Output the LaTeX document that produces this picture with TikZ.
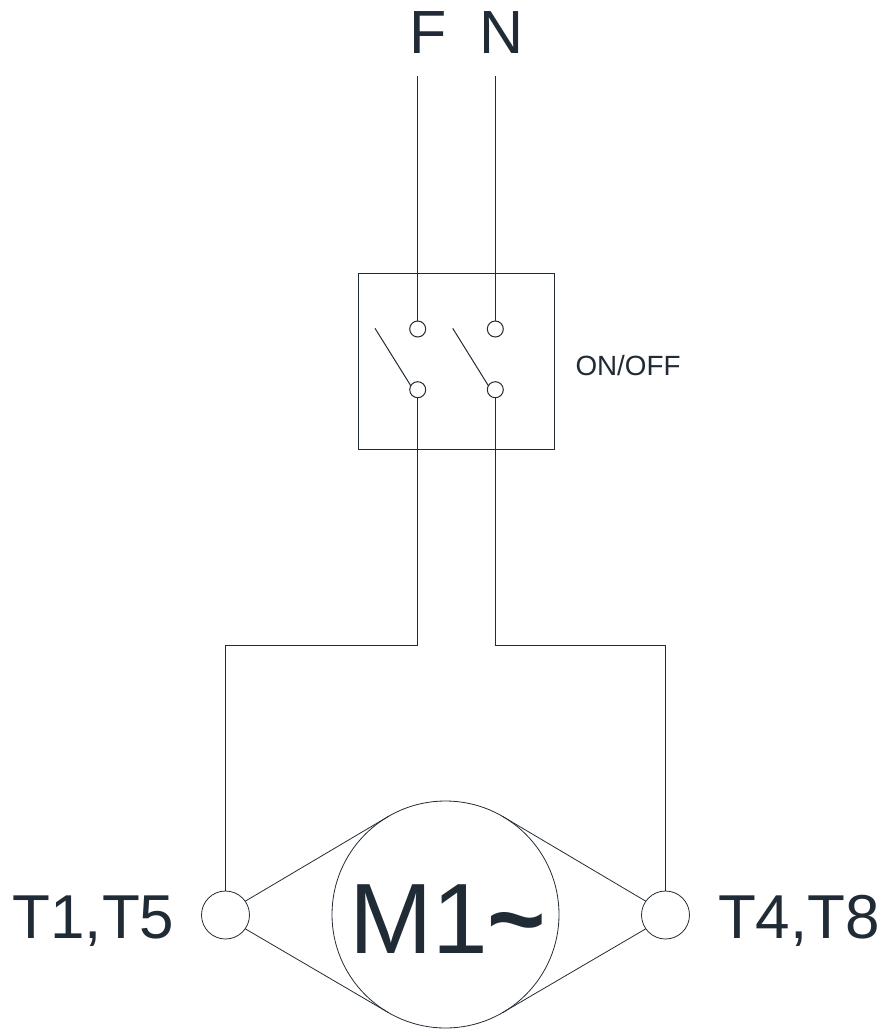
\documentclass[tikz,border=0pt]{standalone}
\usepackage{fontspec}
\setmainfont{Liberation Sans}
\definecolor{ink}{HTML}{212B35}
\tikzset{
  wire/.style={draw=ink,line width=1pt},
  thinwire/.style={draw=ink,line width=0.8pt},
  contact/.style={circle,draw=ink,line width=1pt,fill=white,minimum size=16pt,inner sep=0pt,outer sep=0pt},
  terminal/.style={circle,draw=ink,line width=0.8pt,fill=white,minimum size=48pt,inner sep=0pt,outer sep=0pt},
  motor/.style={circle,draw=ink,line width=0.8pt,minimum size=227pt,inner sep=0pt,outer sep=0pt},
  swbox/.style={rectangle,draw=ink,line width=1pt,minimum width=196pt,minimum height=176pt,inner sep=0pt,outer sep=0pt},
  lbl/.style={anchor=base west,inner sep=0pt,outer sep=0pt,text=ink},
}
\begin{document}
\begin{tikzpicture}[x=1pt,y=-1pt]
\useasboundingbox (0,0) rectangle (883,1030);
% switch box
\node[swbox] (box) at (456.3,361.3) {};
% motor and terminals
\node[motor] (mot) at (445.5,914.5) {};
\node[terminal] (tl) at (225.5,915) {};
\node[terminal] (tr) at (665.5,915) {};
% free ends and corners
\coordinate (ftop) at (417.7,76);
\coordinate (ntop) at (495.3,76);
\coordinate (fblade) at (375,328.3);
\coordinate (nblade) at (452.7,328.3);
% contacts
\node[contact] (f1) at (417.7,329) {};
\node[contact] (n1) at (495.3,329) {};
\node[contact] (f2) at (417.7,389.7) {};
\node[contact] (n2) at (495.3,389.7) {};
\coordinate (fc) at (417.7,645.5);
\coordinate (nc) at (495.3,645.5);
\coordinate (lc) at (tl.north |- fc);
\coordinate (rc) at (tr.north |- nc);
% wires
\draw[wire] (ftop) -- (f1.north);
\draw[wire] (ntop) -- (n1.north);
\draw[wire] (fblade) -- (f2.150);
\draw[wire] (nblade) -- (n2.150);
\draw[wire] (f2.south) -- (fc) -- (lc) -- (tl.north);
\draw[wire] (n2.south) -- (nc) -- (rc) -- (tr.north);
\draw[thinwire] (tl.35) -- (mot.120);
\draw[thinwire] (tl.-35) -- (mot.240);
\draw[thinwire] (tr.145) -- (mot.60);
\draw[thinwire] (tr.-145) -- (mot.300);
% labels
\node[lbl,font=\fontsize{61}{61}\selectfont] (lf) at (409,54) {F};
\node[lbl,font=\fontsize{61}{61}\selectfont] (ln) at (479,54) {N};
\node[lbl,font=\fontsize{27.8}{28}\selectfont] (lo) at (575.5,375) {ON/OFF};
\node[lbl,font=\fontsize{62}{62}\selectfont] (ll) at (12.5,938) {T1,T5};
\node[lbl,font=\fontsize{62}{62}\selectfont] (lr) at (718,938) {T4,T8};
\node[lbl,font=\fontsize{100}{100}\selectfont] (lm) at (349,953) {M1{\bfseries\symbol{126}}};
\end{tikzpicture}
\end{document}
